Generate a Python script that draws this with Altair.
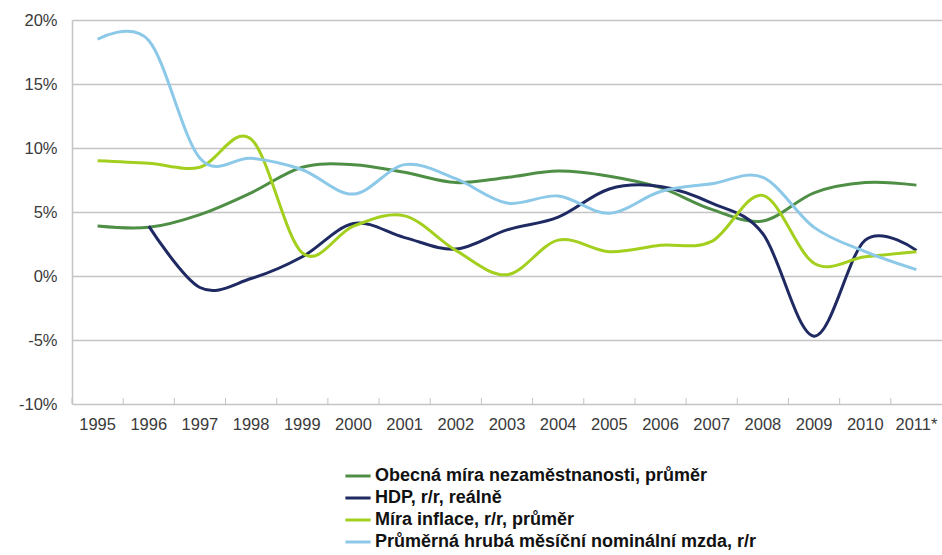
import altair as alt
import pandas as pd

# Year labels on the category axis
years = ["1995", "1996", "1997", "1998", "1999", "2000", "2001", "2002", "2003",
         "2004", "2005", "2006", "2007", "2008", "2009", "2010", "2011*"]

# Series names (legend order)
series = [
    "Obecná míra nezaměstnanosti, průměr",
    "HDP, r/r, reálně",
    "Míra inflace, r/r, průměr",
    "Průměrná hrubá měsíční nominální mzda, r/r",
]
colors = ["#4e8f45", "#1f2a63", "#a3cf1f", "#8cc8e8"]

# Values in percent, one per year (None = no value)
unemployment = [3.9, 3.8, 4.8, 6.5, 8.5, 8.7, 8.1, 7.3, 7.7, 8.2, 7.8, 6.9, 5.2, 4.3, 6.5, 7.3, 7.1]
gdp = [None, 3.9, -0.9, -0.2, 1.5, 4.1, 3.0, 2.1, 3.6, 4.6, 6.8, 7.0, 5.7, 3.3, -4.7, 2.8, 2.0]
inflation = [9.0, 8.8, 8.5, 10.7, 1.8, 3.9, 4.7, 2.0, 0.1, 2.8, 1.9, 2.4, 2.7, 6.3, 1.0, 1.5, 1.9]
wages = [18.5, 18.4, 9.2, 9.2, 8.3, 6.4, 8.7, 7.6, 5.7, 6.25, 4.9, 6.6, 7.2, 7.7, 3.8, 1.9, 0.5]

rows = []
for name, vals in zip(series, [unemployment, gdp, inflation, wages]):
    for i, (yr, v) in enumerate(zip(years, vals)):
        if v is not None:
            rows.append({"rok": yr, "ukazatel": name, "hodnota": v, "idx": i})
df = pd.DataFrame(rows)
ticks_df = pd.DataFrame({"rok": years})

FONT = "Liberation Sans"
W, H = 870, 384

x_scale = alt.Scale(type="band", domain=years, paddingInner=0, paddingOuter=0)
x_axis = alt.Axis(title=None, labelAngle=0, ticks=False, domain=False,
                  bandPosition=0.5,
                  labelPadding=12, labelFontSize=16.5, labelColor="#3a3a3a",
                  labelFont=FONT)

lines = alt.Chart(df).mark_line(
    interpolate="cardinal", strokeWidth=3
).encode(
    x=alt.X("rok:O", scale=x_scale, bandPosition=0.5, sort=years, axis=x_axis),
    y=alt.Y("hodnota:Q", scale=alt.Scale(domain=[-10, 20], nice=False, zero=False),
            axis=alt.Axis(title=None, values=[-10, -5, 0, 5, 10, 15, 20],
                          labelExpr="datum.value + '%'", grid=True,
                          gridColor="#c4c4c4", gridWidth=1.5,
                          domain=True, domainColor="#c4c4c4", domainWidth=1.5,
                          ticks=False, labelPadding=15, labelFontSize=16.5,
                          labelColor="#3a3a3a", labelFont=FONT)),
    color=alt.Color("ukazatel:N", scale=alt.Scale(domain=series, range=colors),
                    legend=alt.Legend(title=None, orient="none", legendX=274, legendY=444,
                                      direction="vertical", symbolType="M-1.2,0H1.2",
                                      symbolSize=441, symbolStrokeWidth=3,
                                      labelFont=FONT, labelFontWeight="bold",
                                      labelFontSize=18, labelColor="#111111",
                                      labelOffset=5, rowPadding=1, labelLimit=600)),
    detail="ukazatel:N",
    order="idx:Q",
)

# short inside tick marks at the category boundaries
ticks = alt.Chart(ticks_df).mark_rule(color="#c4c4c4", strokeWidth=1).encode(
    x=alt.X("rok:O", scale=x_scale, bandPosition=0, sort=years, axis=x_axis),
    y=alt.value(H - 6),
    y2=alt.value(H),
)

chart = alt.layer(lines, ticks).properties(
    width=W, height=H,
    autosize=alt.AutoSizeParams(type="none"),
    padding={"left": 72, "top": 20, "right": 0, "bottom": 151},
).configure_view(stroke=None)

chart.save("out.html", embed_options={"renderer": "svg", "actions": False})
